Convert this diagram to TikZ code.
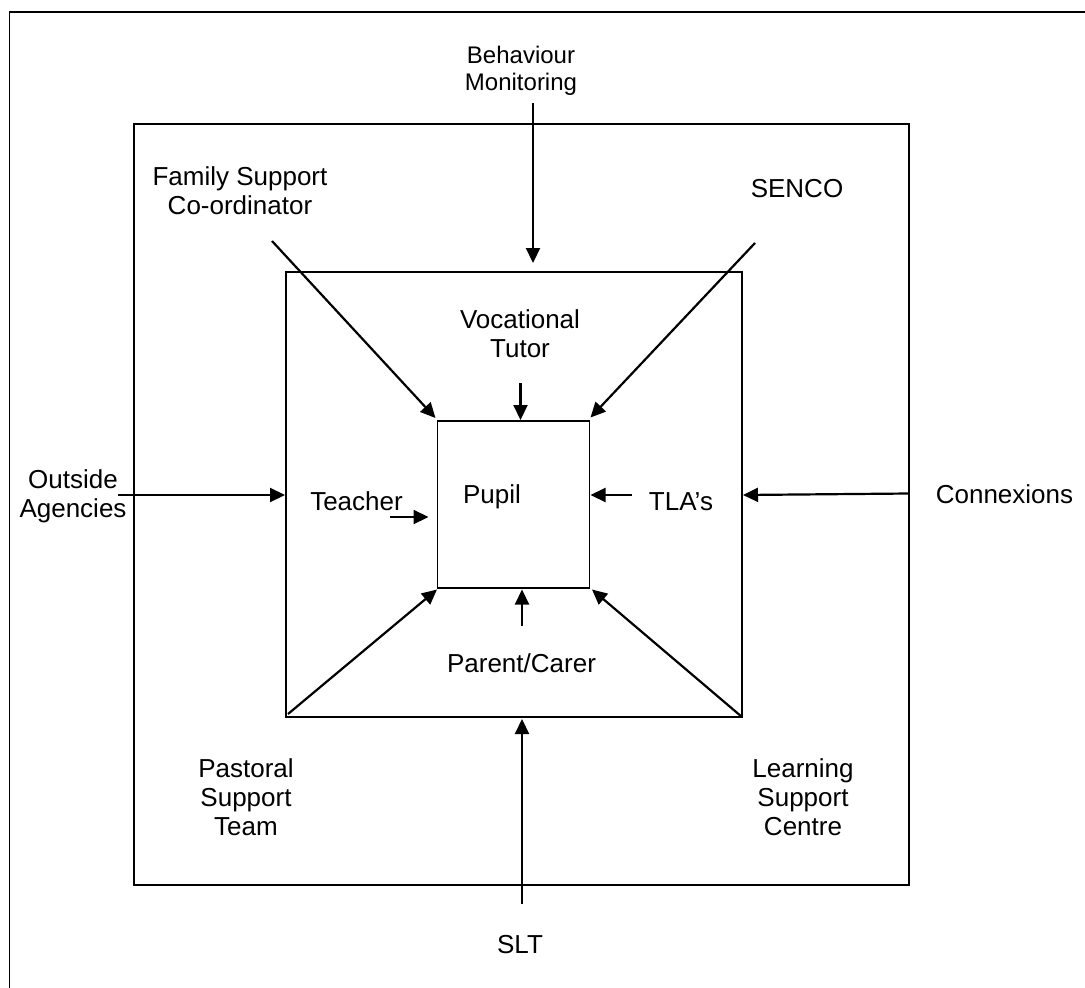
\documentclass[tikz,border=0pt]{standalone}
\usepackage{fontspec}
\setmainfont{Liberation Sans}
\usetikzlibrary{arrows.meta}
\newcommand\mlines[2]{\vtop{\baselineskip=#1pt\lineskiplimit=-20pt\halign{\hfil##\hfil\cr#2\crcr}}}
\begin{document}
\begin{tikzpicture}[x=1pt,y=-1pt,
  frame/.style={draw=black,line width=1.6pt},
  lbl/.style={inner sep=0pt,anchor=base,font=\fontsize{26}{30}\selectfont},
  conn/.style={line width=2.2pt,-{Triangle[length=15pt,width=14pt]}}]
\useasboundingbox (0,0) rectangle (1085,988);
% frames
\draw[frame] (1085,12) -- (9.5,12) -- (9.5,988);
\node[frame,minimum width=775pt,minimum height=761pt,inner sep=0pt] (outer) at (521.5,504.5) {};
\node[frame,minimum width=456pt,minimum height=445pt,inner sep=0pt] (middle) at (514,494.5) {};
\node[frame,minimum width=152pt,minimum height=167pt,inner sep=0pt] (pupilbox) at (513.5,504.5) {};
% labels (anchored at first baseline)
\node[lbl,font=\fontsize{24}{27}\selectfont] (bm) at (521,63.5) {\mlines{26.5}{Behaviour\cr Monitoring}};
\node[lbl] (fsc) at (240,185) {\mlines{29}{Family Support\cr Co-ordinator}};
\node[lbl] (senco) at (797,197) {SENCO};
\node[lbl] (vt) at (520,328.5) {\mlines{29}{Vocational\cr Tutor}};
\node[lbl] (oa) at (73,488) {\mlines{29}{Outside\cr Agencies}};
\node[lbl] (teacher) at (356.5,510.5) {Teacher};
\node[lbl] (pupil) at (492,503) {Pupil};
\node[lbl] (tla) at (681,510.5) {TLA’s};
\node[lbl] (cx) at (1004.5,503.5) {Connexions};
\node[lbl] (pc) at (521.5,672) {Parent/Carer};
\node[lbl] (pst) at (246,777) {\mlines{29}{Pastoral\cr Support\cr Team}};
\node[lbl] (lsc) at (803,777) {\mlines{29}{Learning\cr Support\cr Centre}};
\node[lbl] (slt) at (520,953) {SLT};
% connector coordinates
\coordinate (bm1) at (533,103);   \coordinate (bm2) at (533,263);
\coordinate (fsc1) at (272,241);  \coordinate (fsc2) at (435.5,418);
\coordinate (se1) at (755,243);   \coordinate (se2) at (590.5,417.5);
\coordinate (vt1) at (520.5,383); \coordinate (vt2) at (520.5,420);
\coordinate (oa1) at (118,495);   \coordinate (oa2) at (285,495);
\coordinate (te1) at (390,517);   \coordinate (te2) at (428.5,517);
\coordinate (tl1) at (632,495);   \coordinate (tl2) at (590.5,495);
\coordinate (cx1) at (909,493.5); \coordinate (cx2) at (743,495);
\coordinate (ps1) at (288,714);   \coordinate (ps2) at (437,589.5);
\coordinate (ls1) at (742,717);   \coordinate (ls2) at (592,589.5);
\coordinate (pc1) at (522,626);   \coordinate (pc2) at (522,589.5);
\coordinate (sl1) at (522,904);   \coordinate (sl2) at (522,719);
% connectors
\draw[conn] (bm1) -- (bm2);
\draw[conn] (fsc1) -- (fsc2);
\draw[conn] (se1) -- (se2);
\draw[conn] (vt1) -- (vt2);
\draw[conn] (oa1) -- (oa2);
\draw[conn] (te1) -- (te2);
\draw[conn] (tl1) -- (tl2);
\draw[conn] (cx1) -- (cx2);
\draw[conn] (ps1) -- (ps2);
\draw[conn] (ls1) -- (ls2);
\draw[conn] (pc1) -- (pc2);
\draw[conn] (sl1) -- (sl2);
\end{tikzpicture}
\end{document}
